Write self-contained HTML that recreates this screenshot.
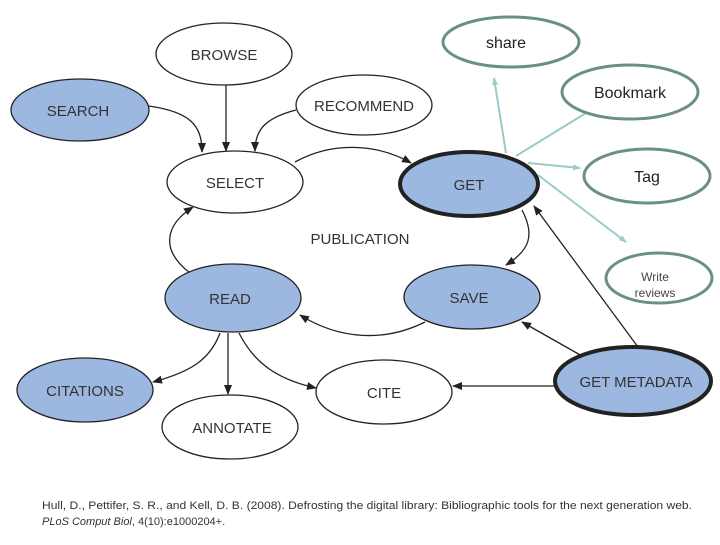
<!DOCTYPE html>
<html><head><style>
body{margin:0;width:720px;height:540px;background:#fff;overflow:hidden}
svg text{font-family:"Liberation Sans",sans-serif}
</style></head><body>
<svg width="720" height="540" viewBox="0 0 720 540" xmlns="http://www.w3.org/2000/svg">
<defs>
<marker id="a" markerWidth="10" markerHeight="8" refX="9" refY="4" orient="auto" markerUnits="userSpaceOnUse"><path d="M0,0 L10,4 L0,8 Z" fill="#222"/></marker>
<marker id="t" markerWidth="8" markerHeight="6" refX="7" refY="3" orient="auto" markerUnits="userSpaceOnUse"><path d="M0,0 L8,3 L0,6 Z" fill="#9cc9c9"/></marker>
</defs>
<g stroke="#9cc9c9" stroke-width="2" fill="none">
<line x1="506" y1="153" x2="494" y2="78" marker-end="url(#t)"/>
<line x1="516" y1="156" x2="586" y2="113"/>
<line x1="528" y1="163" x2="580" y2="168" marker-end="url(#t)"/>
<line x1="538" y1="175" x2="626" y2="242" marker-end="url(#t)"/>
</g>
<g stroke="#222" stroke-width="1.3" fill="none">
<path d="M149,106 C190,112 202,125 202,152" marker-end="url(#a)"/>
<line x1="226" y1="85" x2="226" y2="151" marker-end="url(#a)"/>
<path d="M296,110 C265,118 255,130 255,151" marker-end="url(#a)"/>
<path d="M295,162 C335,140 380,145 411,163" marker-end="url(#a)"/>
<path d="M522,210 C535,235 530,250 506,265" marker-end="url(#a)"/>
<path d="M425,322 C385,342 340,340 300,315" marker-end="url(#a)"/>
<path d="M190,273 C160,250 165,225 193,207" marker-end="url(#a)"/>
<line x1="582" y1="356" x2="522" y2="322" marker-end="url(#a)"/>
<line x1="638" y1="347" x2="534" y2="206" marker-end="url(#a)"/>
<line x1="555" y1="386" x2="453" y2="386" marker-end="url(#a)"/>
<path d="M220,333 C210,360 190,372 153,382" marker-end="url(#a)"/>
<line x1="228" y1="333" x2="228" y2="394" marker-end="url(#a)"/>
<path d="M239,333 C255,365 280,380 316,388" marker-end="url(#a)"/>
</g>
<g stroke="#222" stroke-width="1.3">
<ellipse cx="224" cy="54" rx="68" ry="31" fill="#fff"/>
<ellipse cx="80" cy="110" rx="69" ry="31" fill="#9db8e0"/>
<ellipse cx="364" cy="105" rx="68" ry="30" fill="#fff"/>
<ellipse cx="235" cy="182" rx="68" ry="31" fill="#fff"/>
<ellipse cx="469" cy="184" rx="69" ry="32" fill="#9db8e0" stroke-width="4"/>
<ellipse cx="233" cy="298" rx="68" ry="34" fill="#9db8e0"/>
<ellipse cx="472" cy="297" rx="68" ry="32" fill="#9db8e0"/>
<ellipse cx="85" cy="390" rx="68" ry="32" fill="#9db8e0"/>
<ellipse cx="230" cy="427" rx="68" ry="32" fill="#fff"/>
<ellipse cx="384" cy="392" rx="68" ry="32" fill="#fff"/>
<ellipse cx="633" cy="381" rx="78" ry="34" fill="#9db8e0" stroke-width="4"/>
</g>
<g stroke="#6a8f8a" stroke-width="3" fill="#fff">
<ellipse cx="511" cy="42" rx="68" ry="25"/>
<ellipse cx="630" cy="92" rx="68" ry="27"/>
<ellipse cx="647" cy="176" rx="63" ry="27"/>
<ellipse cx="659" cy="278" rx="53" ry="25"/>
</g>
<g font-size="15" fill="#333" text-anchor="middle">
<text x="224" y="60">BROWSE</text>
<text x="78" y="116">SEARCH</text>
<text x="364" y="111">RECOMMEND</text>
<text x="235" y="188">SELECT</text>
<text x="469" y="190">GET</text>
<text x="360" y="244">PUBLICATION</text>
<text x="230" y="304">READ</text>
<text x="469" y="303">SAVE</text>
<text x="85" y="396">CITATIONS</text>
<text x="232" y="433">ANNOTATE</text>
<text x="384" y="398">CITE</text>
<text x="636" y="387">GET METADATA</text>
</g>
<g fill="#222" text-anchor="middle">
<text x="506" y="48" font-size="16">share</text>
<text x="630" y="98" font-size="16">Bookmark</text>
<text x="647" y="182" font-size="16">Tag</text>
<text x="655" y="281" font-size="12" fill="#444">Write</text>
<text x="655" y="297" font-size="12" fill="#444">reviews</text>
</g>
<text x="42" y="509" font-size="11" fill="#333" textLength="650" lengthAdjust="spacingAndGlyphs">Hull, D., Pettifer, S. R., and Kell, D. B. (2008). Defrosting the digital library: Bibliographic tools for the next generation web.</text>
<text x="42" y="525" font-size="11" fill="#333"><tspan font-style="italic">PLoS Comput Biol</tspan>, 4(10):e1000204+.</text>
</svg>
</body></html>
